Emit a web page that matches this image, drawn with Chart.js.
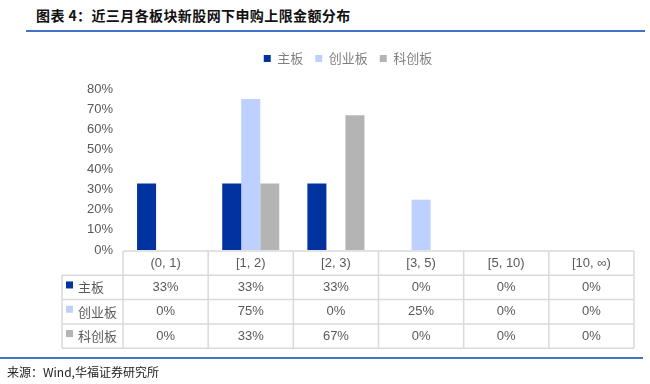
<!DOCTYPE html>
<html>
<head>
<meta charset="utf-8">
<script src="https://cdn.jsdelivr.net/npm/chart.js@4"></script>
<style>
  body { margin: 0; background: #fff; }
  #wrap { position: relative; width: 650px; height: 384px; overflow: hidden; }
  #titulo { position: absolute; left: 36px; top: 5px; font: bold 14px "Noto Sans CJK SC", sans-serif; color: #111; letter-spacing: 0.4px; }
  .linea { position: absolute; background: #4472C4; }
  #fuente { position: absolute; left: 7px; top: 363px; font: 12px "Noto Sans CJK SC", sans-serif; color: #222; }
  canvas { position: absolute; left: 0; top: 0; }
</style>
</head>
<body>
<div id="wrap">
  <div id="titulo">图表 4：近三月各板块新股网下申购上限金额分布</div>
  <div class="linea" style="left:26px; top:30px; width:619px; height:2px;"></div>
  <canvas id="grafico" width="650" height="384"></canvas>
  <div class="linea" style="left:0px; top:357px; width:643px; height:1.5px;"></div>
  <div id="fuente">来源：Wind,华福证券研究所</div>
</div>
<script>
// Datos (porcentaje)
const categorias = ['(0, 1)', '[1, 2)', '[2, 3)', '[3, 5)', '[5, 10)', '[10, ∞)'];
const series = ['主板', '创业板', '科创板'];
const zhuban = [33, 33, 33, 0, 0, 0];
const chuangyeban = [0, 75, 0, 25, 0, 0];
const kechuangban = [0, 33, 67, 0, 0, 0];
const colores = ['#0033A0', '#BDD0FF', '#B4B4B4'];
const ticksY = [0, 10, 20, 30, 40, 50, 60, 70, 80];

const valores = [zhuban, chuangyeban, kechuangban];

// Tabla de datos debajo del eje X, dibujada con las posiciones de la escala
const tablaDatos = {
    id: 'tablaDatos',
    afterDraw(chart) {
        const ctx = chart.ctx;
        const area = chart.chartArea;
        const x = chart.scales.x;
        const n = categorias.length;
        const anchoCol = (area.right - area.left) / n;
        const izq = 62;
        const filaH = 24.3;
        const y0 = area.bottom + 1;

        ctx.save();
        ctx.strokeStyle = '#D9D9D9';
        ctx.lineWidth = 1.5;

        // líneas horizontales
        for (let r = 0; r <= 4; r++) {
            const y = y0 + r * filaH;
            ctx.beginPath();
            ctx.moveTo(r === 0 ? area.left : izq, y);
            ctx.lineTo(area.right, y);
            ctx.stroke();
        }
        // líneas verticales
        ctx.beginPath();
        ctx.moveTo(izq, y0 + filaH);
        ctx.lineTo(izq, y0 + 4 * filaH);
        ctx.stroke();
        for (let c = 0; c <= n; c++) {
            const xx = area.left + c * anchoCol;
            ctx.beginPath();
            ctx.moveTo(xx, y0);
            ctx.lineTo(xx, y0 + 4 * filaH);
            ctx.stroke();
        }

        ctx.fillStyle = '#595959';
        ctx.textAlign = 'center';
        ctx.textBaseline = 'middle';
        ctx.font = '13px "Liberation Sans", "Noto Sans CJK SC", sans-serif';
        categorias.forEach((cat, i) => {
            ctx.fillText(cat, x.getPixelForValue(i), y0 + filaH / 2);
        });

        valores.forEach((serie, s) => {
            const yc = y0 + (s + 1.5) * filaH;
            ctx.fillStyle = colores[s];
            ctx.fillRect(66, yc - 6, 7, 7);
            ctx.fillStyle = '#595959';
            ctx.textAlign = 'left';
            ctx.font = '13px "Noto Sans CJK SC", sans-serif';
            ctx.fillText(series[s], 78, yc);
            ctx.textAlign = 'center';
            ctx.font = '13px "Liberation Sans", sans-serif';
            serie.forEach((v, i) => {
                ctx.fillText(v + '%', x.getPixelForValue(i), yc);
            });
        });
        ctx.restore();
    }
};

// Espacio extra bajo la leyenda
const espacioLeyenda = {
    id: 'espacioLeyenda',
    beforeInit(chart) {
        const fitOriginal = chart.legend.fit;
        chart.legend.fit = function () {
            fitOriginal.bind(chart.legend)();
            this.height += 14;
        };
    }
};

new Chart(document.getElementById('grafico'), {
    type: 'bar',
    data: {
        labels: categorias,
        datasets: series.map((nombre, s) => ({
            label: nombre,
            data: valores[s],
            backgroundColor: colores[s],
            categoryPercentage: 0.67,
            barPercentage: 1.0
        }))
    },
    options: {
        responsive: false,
        animation: false,
        layout: { padding: { top: 40, left: 62, right: 16, bottom: 134 } },
        plugins: {
            legend: {
                display: true,
                position: 'top',
                labels: {
                    boxWidth: 7,
                    boxHeight: 7,
                    padding: 12,
                    color: '#7F7F7F',
                    font: { size: 13, family: '"Noto Sans CJK SC", sans-serif' }
                }
            },
            tooltip: { enabled: false }
        },
        scales: {
            x: {
                display: false
            },
            y: {
                min: 0,
                max: 80,
                afterFit(scale) { scale.width = 61; },
                afterBuildTicks(scale) { scale.ticks = ticksY.map(v => ({ value: v })); },
                grid: { display: false, drawTicks: false },
                border: { display: false },
                ticks: {
                    padding: 10,
                    color: '#595959',
                    font: { size: 13, family: '"Liberation Sans", sans-serif' },
                    callback: v => v + '%'
                }
            }
        }
    },
    plugins: [tablaDatos, espacioLeyenda]
});
</script>
</body>
</html>
